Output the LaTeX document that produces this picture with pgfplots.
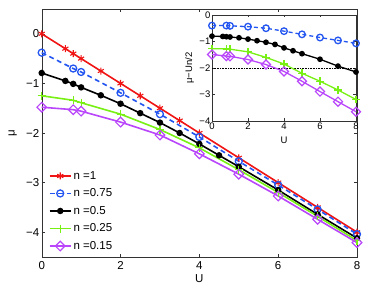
\documentclass[border=0pt]{standalone}
\usepackage{fontspec}
\setmainfont{Liberation Sans}
\usepackage{pgfplots}
\pgfplotsset{compat=1.18}
\definecolor{cred}{RGB}{240,20,20}
\definecolor{cblue}{RGB}{35,85,240}
\definecolor{cgreen}{RGB}{120,240,20}
\definecolor{cpurple}{RGB}{185,70,250}
\begin{document}
\begin{tikzpicture}
\path[use as bounding box] (-41.7pt,-34pt) rectangle (332.3pt,257pt);
\begin{axis}[
  scale only axis, width=315.3pt, height=248pt,
  xmin=0, xmax=8, ymin=-4.5, ymax=0.5,
  xtick={0,2,4,6,8}, xticklabels={0,2,4,6,8},
  ytick={-4,-3,-2,-1,0}, yticklabels={−4,−3,−2,−1,0},
  tick align=inside, major tick length=3pt,
  axis line style={black!80}, tick style={black!80},
  ticklabel style={font=\fontsize{11.5}{12}\selectfont},
  xticklabel style={yshift=-1pt},
  yticklabel style={xshift=1pt},
  xlabel={U}, ylabel={μ},
  label style={font=\fontsize{11.5}{12}\selectfont},
  xlabel style={at={(axis description cs:0.5,-0.089)}, anchor=center},
  ylabel style={at={(axis description cs:-0.092,0.5)}, anchor=center},
  clip=false,
  legend cell align=left,
  legend style={at={(rel axis cs:0,0)}, anchor=south west, xshift=4pt, yshift=2pt,
    draw=none, fill=none, font=\fontsize{11.5}{12}\selectfont, row sep=4pt},
  legend image code/.code={\draw[mark repeat=2,mark phase=2] plot coordinates {(0cm,0cm) (0.37cm,0cm) (0.74cm,0cm)};},
]
\addplot[cred, line width=1.6pt, mark=asterisk, mark size=3.5pt, mark options={line width=1.1pt}]
 coordinates {(0,0) (0.6,-0.3) (0.8,-0.4) (1,-0.5) (1.5,-0.75) (2,-1) (2.5,-1.25) (3,-1.5) (3.5,-1.75) (4,-2) (5,-2.5) (6,-3) (7,-3.5) (8,-4)};
\addlegendentry{n =1}
\addplot[cblue, line width=1.6pt, dash pattern=on 5pt off 3.5pt, mark=o, mark size=3.5pt, mark options={solid, line width=1.3pt}]
 coordinates {(0,-0.38) (0.8,-0.7) (1,-0.77) (2,-1.19) (3,-1.62) (4,-2.08) (5,-2.57) (6,-3.05) (7,-3.54) (8,-4.04)};
\addlegendentry{n =0.75}
\addplot[black, line width=1.6pt, mark=*, mark size=2.4pt]
 coordinates {(0,-0.79) (0.6,-0.95) (0.8,-1.01) (1,-1.08) (1.5,-1.24) (2,-1.41) (2.5,-1.6) (3,-1.79) (3.5,-2.0) (4,-2.22) (4.5,-2.45) (5,-2.68) (6,-3.15) (7,-3.64) (8,-4.12)};
\addlegendentry{n =0.5}
\addplot[cgreen, line width=1.6pt, mark=+, mark size=4pt, mark options={line width=1.2pt}]
 coordinates {(0,-1.25) (0.8,-1.34) (1,-1.39) (2,-1.62) (3,-1.93) (4,-2.3) (5,-2.74) (6,-3.2) (7,-3.68) (8,-4.17)};
\addlegendentry{n =0.25}
\addplot[cpurple, line width=1.6pt, mark=square, mark size=3.4pt, mark options={rotate=45, line width=1.2pt}]
 coordinates {(0,-1.48) (0.8,-1.53) (1,-1.56) (2,-1.78) (3,-2.04) (4,-2.42) (5,-2.83) (6,-3.27) (7,-3.74) (8,-4.21)};
\addlegendentry{n =0.15}
\end{axis}
\begin{axis}[
  at={(170.3pt,136pt)}, anchor=south west,
  scale only axis, width=144pt, height=106pt,
  xmin=0, xmax=8, ymin=-4, ymax=0,
  xtick={0,2,4,6,8}, xticklabels={0,2,4,6,8},
  ytick={-4,-3,-2,-1,0}, yticklabels={−4,−3,−2,−1,0},
  tick align=inside, major tick length=2.5pt,
  axis line style={black!80}, tick style={black!80},
  axis background/.style={fill=white},
  ticklabel style={font=\fontsize{9.5}{10}\selectfont, inner sep=1.5pt},
  xlabel={U}, ylabel={μ−Un/2},
  label style={font=\fontsize{9.5}{10}\selectfont},
  xlabel style={at={(axis description cs:0.5,-0.18)}, anchor=center},
  ylabel style={at={(axis description cs:-0.155,0.5)}, anchor=center},
  clip=false,
]
\addplot[black, densely dotted, line width=0.6pt] coordinates {(0,-2) (8,-2)};
\addplot[cblue, line width=1.3pt, dash pattern=on 4pt off 3pt, mark=o, mark size=3.3pt, mark options={solid, line width=1.3pt}]
 coordinates {(0,-0.4) (0.8,-0.4) (1,-0.41) (2,-0.44) (3,-0.5) (4,-0.61) (5,-0.73) (6,-0.85) (7,-0.96) (8,-1.07)};
\addplot[black, line width=1.3pt, mark=*, mark size=2.2pt]
 coordinates {(0,-0.8) (0.6,-0.81) (0.8,-0.82) (1,-0.83) (1.5,-0.86) (2,-0.91) (2.5,-0.97) (3,-1.03) (3.5,-1.11) (4,-1.24) (4.5,-1.35) (5,-1.46) (6,-1.67) (7,-1.93) (8,-2.15)};
\addplot[cgreen, line width=1.3pt, mark=+, mark size=3.8pt, mark options={line width=1.2pt}]
 coordinates {(0,-1.27) (0.8,-1.28) (1,-1.29) (2,-1.39) (3,-1.6) (4,-1.85) (5,-2.2) (6,-2.5) (7,-2.83) (8,-3.19)};
\addplot[cpurple, line width=1.3pt, mark=square, mark size=3.2pt, mark options={rotate=45, line width=1.2pt}]
 coordinates {(0,-1.49) (0.8,-1.55) (1,-1.56) (2,-1.68) (3,-1.87) (4,-2.13) (5,-2.5) (6,-2.89) (7,-3.27) (8,-3.65)};
\end{axis}
\end{tikzpicture}
\end{document}
